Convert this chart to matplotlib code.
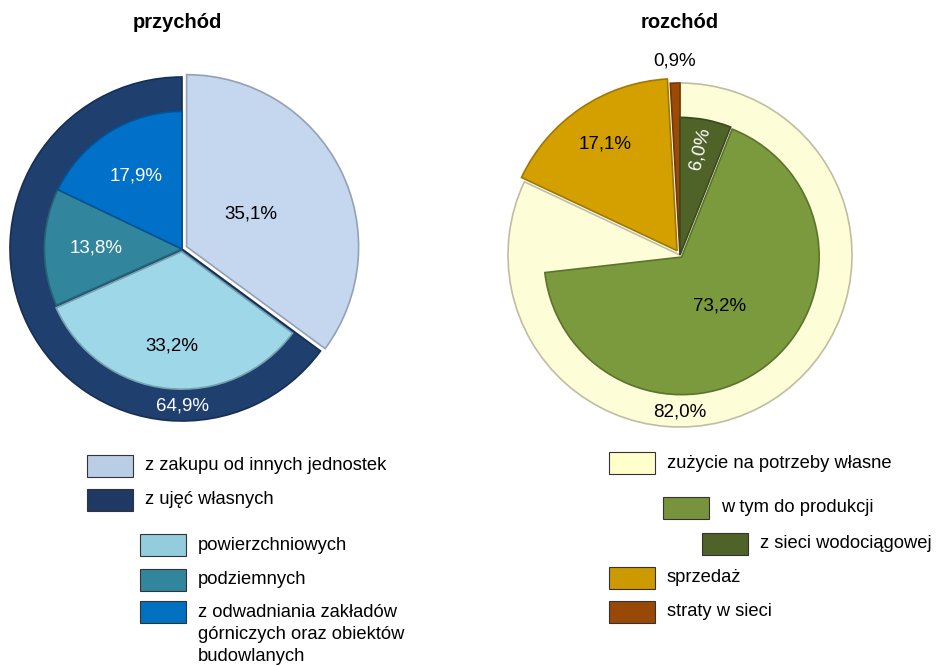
import numpy as np
import matplotlib.pyplot as plt
from matplotlib.patches import Rectangle

plt.rcParams['font.family'] = ['Liberation Sans', 'DejaVu Sans']

# przychód
in_outer_vals = [35.1, 64.9]
in_outer_cols = ['#C5D7EF', '#1F3F6E']
in_inner_vals = [35.1, 33.2, 13.8, 17.9]
in_inner_cols = ['none', '#9DD7E8', '#31859C', '#0070C8']
in_inner_lbl = ['35,1%', '33,2%', '13,8%', '17,9%']
in_inner_txt = ['black', 'black', 'white', 'white']
in_ring_lbl = '64,9%'

# rozchód
out_outer_vals = [82.0, 17.1, 0.9]
out_outer_cols = ['#FDFDD8', '#D4A000', '#9C4A06']
out_inner_vals = [6.0, 67.2, 8.8, 17.1, 0.9]   # 73,2% w tym 6,0% z sieci
out_inner_cols = ['#4F6228', '#7A9A3D', 'none', 'none', 'none']
out_inner_lbl = ['6,0%', '73,2%', '', '17,1%', '0,9%']
out_inner_txt = ['white', 'black', 'black', 'black', 'black']
out_ring_lbl = '82,0%'

W, H = 938, 666
fig = plt.figure(figsize=(W / 100, H / 100), dpi=100)

R = 172  # pixel radius
LIM = 1.06


def pie_axes(cx, cy):
    s = 2 * LIM * R
    ax = fig.add_axes([(cx - s / 2) / W, (H - cy - s / 2) / H, s / W, s / H])
    return ax


def shade(c, f):
    rgb = np.array(plt.matplotlib.colors.to_rgb(c))
    return tuple(rgb * f)


def draw_pie(ax, ovals, ocols, oexp, ivals, icols, iexp, lbls, tcols, lrad, ring_lbl, ring_col):
    w1, _ = ax.pie(ovals, colors=ocols, startangle=90, counterclock=False,
                   radius=1.0, explode=oexp,
                   wedgeprops=dict(linewidth=1.2))
    for w, c in zip(w1, ocols):
        w.set_edgecolor(shade(c, 0.75))
    w2, _ = ax.pie(ivals, colors=[c if c != 'none' else 'white' for c in icols],
                   startangle=90, counterclock=False, radius=0.8, explode=iexp,
                   wedgeprops=dict(linewidth=1.2))
    for w, c in zip(w2, icols):
        if c == 'none':
            w.set_visible(False)
        else:
            w.set_edgecolor(shade(c, 0.75))
    for w, lb, tc, r in zip(w2, lbls, tcols, lrad):
        if not lb:
            continue
        a = np.deg2rad((w.theta1 + w.theta2) / 2)
        cx, cy = w.center
        rot = 0
        if lb == '6,0%':
            rot = np.rad2deg(a) - 2
        ax.text(cx + r * np.cos(a), cy + r * np.sin(a), lb, ha='center', va='center',
                fontsize=13.5, color=tc, rotation=rot, clip_on=False)
    ax.text(0, -0.91, ring_lbl, ha='center', va='center', fontsize=13.5, color=ring_col)
    ax.set_xlim(-LIM, LIM)
    ax.set_ylim(-LIM, LIM)
    ax.set_aspect('equal')
    ax.axis('off')


axL = pie_axes(182, 249)
draw_pie(axL, in_outer_vals, in_outer_cols, [0.03, 0], in_inner_vals, in_inner_cols,
         [0, 0.015, 0, 0], in_inner_lbl, in_inner_txt, [0.45, 0.55, 0.5, 0.5],
         in_ring_lbl, 'white')

axR = pie_axes(680, 255)
draw_pie(axR, out_outer_vals, out_outer_cols, [0, 0.03, 0], out_inner_vals, out_inner_cols,
         [0, 0.015, 0, 0, 0], out_inner_lbl, out_inner_txt, [0.63, 0.36, 0, 0.78, 1.13],
         out_ring_lbl, 'black')

fig.text(177 / W, 1 - 22 / H, 'przychód', ha='center', va='center', fontsize=14.5, fontweight='bold')
fig.text(680 / W, 1 - 22 / H, 'rozchód', ha='center', va='center', fontsize=14.5, fontweight='bold')

# legends: box left x, row y (px from top), text
leg_left = [
    (87, 466, '#B9CDE5', 'z zakupu od innych jednostek'),
    (87, 500, '#1F3864', 'z ujęć własnych'),
    (140, 545, '#93CDDD', 'powierzchniowych'),
    (140, 580, '#31859C', 'podziemnych'),
    (140, 612, '#0070C0', 'z odwadniania zakładów\ngórniczych oraz obiektów\nbudowlanych'),
]
leg_right = [
    (609, 463, '#FFFFCC', 'zużycie na potrzeby własne'),
    (663, 508, '#77933C', 'w tym do produkcji'),
    (702, 544, '#4F6228', 'z sieci wodociągowej'),
    (609, 578, '#CC9900', 'sprzedaż'),
    (609, 612, '#984807', 'straty w sieci'),
]
bw, bh = 46, 22
for x, y, c, t in leg_left + leg_right:
    fig.patches.append(Rectangle((x / W, (H - y - bh / 2) / H), bw / W, bh / H,
                                 transform=fig.transFigure, facecolor=c,
                                 edgecolor='#333333', linewidth=0.8))
    multi = '\n' in t
    fig.text((x + bw + 12) / W, (H - y + (8 if multi else 0)) / H, t, ha='left',
             va='top' if multi else 'center', fontsize=13.2, linespacing=1.4)

fig.savefig('out.png', dpi=100)
